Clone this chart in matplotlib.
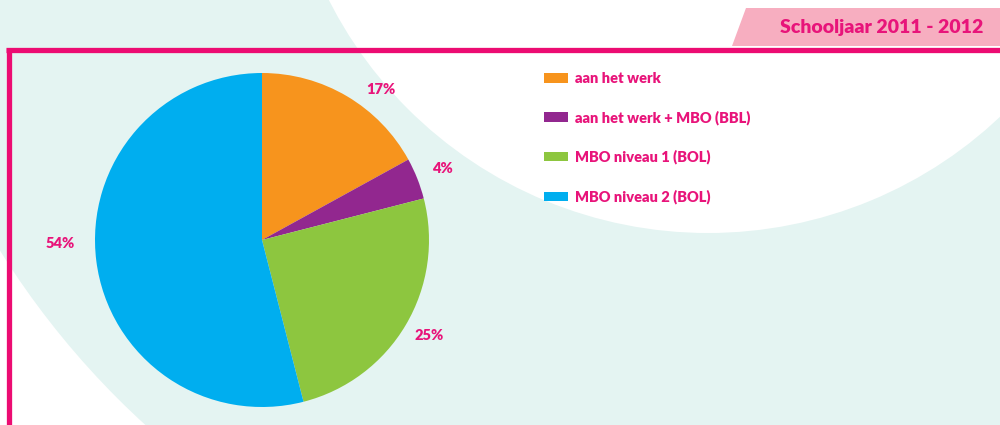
import numpy as np
import matplotlib
matplotlib.use('Agg')
import matplotlib.pyplot as plt
from matplotlib.patches import Wedge, Polygon

# === data ===
labels = ['aan het werk', 'aan het werk + MBO (BBL)', 'MBO niveau 1 (BOL)', 'MBO niveau 2 (BOL)']
values = [17, 4, 25, 54]
colors = ['#F7941D', '#92278F', '#8DC63F', '#00AEEF']
title = 'Schooljaar 2011 - 2012'

pink = '#E8147A'
teal = '#E4F4F2'

plt.rcParams['font.family'] = ['Lato', 'DejaVu Sans']

W, H = 1000, 425
fig = plt.figure(figsize=(10, 4.25), dpi=100)
ax = fig.add_axes([0, 0, 1, 1])

# background band (pixel units, y up)
ax.add_patch(Wedge((708, H + 192), 835, 0, 360, width=410, fc=teal, ec='none', zorder=0))

# banner and frame
ax.add_patch(Polygon([(732, H - 46), (746, H - 8), (W, H - 8), (W, H - 46)],
                     closed=True, fc='#F7AEC0', ec='none', zorder=1))
ax.text(983, H - 27, title, ha='right', va='center', fontsize=14,
        fontweight='heavy', color=pink, zorder=3)
ax.plot([6, W], [H - 50, H - 50], color='#EC0C72', lw=3.8, solid_capstyle='butt', zorder=2)
ax.plot([9, 9], [H - 48, 0], color='#EC0C72', lw=3.8, solid_capstyle='butt', zorder=2)

# pie
wedges, texts, autotexts = ax.pie(values, colors=colors, startangle=90, counterclock=False,
                                  center=(262, H - 240), radius=167,
                                  autopct='%d%%', pctdistance=1.16,
                                  wedgeprops=dict(linewidth=0),
                                  textprops=dict(color=pink, fontsize=10.5, fontweight='heavy'))
for w in wedges:
    w.set_zorder(2)

# small nudges of the percentage labels, as in the original layout
nudges = [(20, -16), (0, 0), (0, 3), (-10, 21)]
for t, (dx, dy) in zip(autotexts, nudges):
    x, y = t.get_position()
    t.set_position((x + dx, y + dy))

ax.set_xlim(0, W)
ax.set_ylim(0, H)
ax.set_aspect('equal')
ax.axis('off')

leg = ax.legend(wedges, labels, loc='upper left', bbox_to_anchor=(544 / W, 1 - 72 / H),
                frameon=False, borderpad=0, borderaxespad=0,
                handlelength=1.65, handleheight=0.62, handletextpad=0.5,
                labelspacing=1.72, prop=dict(size=10.5, weight='heavy'))
for t in leg.get_texts():
    t.set_color(pink)

fig.savefig('out.png', dpi=100)
